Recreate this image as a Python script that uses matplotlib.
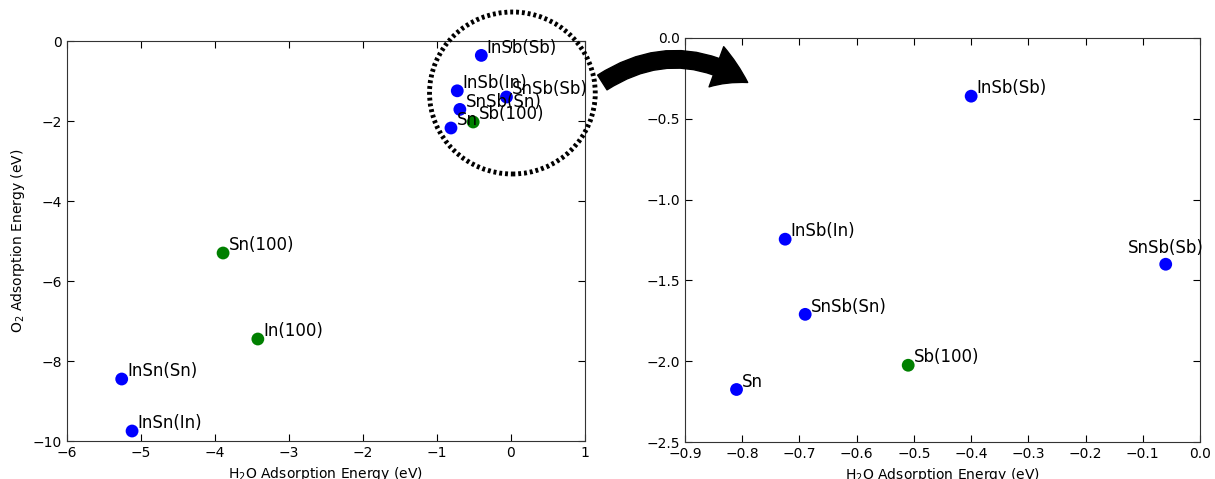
import matplotlib.pyplot as plt
from matplotlib.patches import Ellipse, FancyArrowPatch

# surface / site labels and adsorption energies (eV)
labels = ["InSb(Sb)", "InSb(In)", "SnSb(Sb)", "SnSb(Sn)", "Sn", "Sb(100)",
          "Sn(100)", "In(100)", "InSn(Sn)", "InSn(In)"]
h2o = [-0.40, -0.725, -0.06, -0.69, -0.81, -0.51, -3.89, -3.42, -5.26, -5.12]
o2 = [-0.36, -1.245, -1.40, -1.71, -2.175, -2.025, -5.30, -7.45, -8.45, -9.75]
colors = ["blue", "blue", "blue", "blue", "blue", "green",
          "green", "green", "blue", "blue"]
zoom_labels = ["InSb(Sb)", "InSb(In)", "SnSb(Sb)", "SnSb(Sn)", "Sn", "Sb(100)"]

fig = plt.figure(figsize=(12.15, 4.79), dpi=100)
ax1 = fig.add_axes([0.0551, 0.0793, 0.4263, 0.8351])
ax2 = fig.add_axes([0.5638, 0.0772, 0.4239, 0.8435])

for ax in (ax1, ax2):
    ax.tick_params(direction="in", top=True, right=True, labelsize=10, length=5)
    for s in ax.spines.values():
        s.set_color("#333333")

# full view
ax1.scatter(h2o, o2, c=colors, s=85, edgecolors="none", zorder=3)
for lab, x, y in zip(labels, h2o, o2):
    ax1.annotate(lab, (x, y), xytext=(4, 2), textcoords="offset points", fontsize=12)
ax1.set_xlim(-6, 1)
ax1.set_ylim(-10, 0)
ax1.set_xlabel("H$_2$O Adsorption Energy (eV)", fontsize=10)
ax1.set_ylabel("O$_2$ Adsorption Energy (eV)", fontsize=10)

# zoomed view
for lab, x, y, c in zip(labels, h2o, o2, colors):
    if lab not in zoom_labels:
        continue
    ax2.scatter(x, y, c=c, s=85, edgecolors="none", zorder=3)
    if lab == "SnSb(Sb)":
        ax2.annotate(lab, (x, y), xytext=(0, 8), textcoords="offset points",
                     fontsize=12, ha="center")
    else:
        ax2.annotate(lab, (x, y), xytext=(4, 2), textcoords="offset points", fontsize=12)
ax2.set_xlim(-0.9, 0.0)
ax2.set_ylim(-2.5, 0.0)
ax2.set_xlabel("H$_2$O Adsorption Energy (eV)", fontsize=10)

# dotted circle around cluster
circ = Ellipse((0.02, -1.3), width=2.24, height=4.05, fill=False, edgecolor="black",
               linestyle=(0, (0.6, 0.6)), linewidth=3.5, clip_on=False, zorder=4)
ax1.add_patch(circ)

# curved arrow between panels
arrow = FancyArrowPatch((600 / 1215, 1 - 84 / 479), (750 / 1215, 1 - 84 / 479),
                        transform=fig.transFigure, connectionstyle="arc3,rad=-0.33",
                        arrowstyle="simple,head_width=2.2,head_length=1.8,tail_width=0.9",
                        mutation_scale=14, color="black", zorder=5)
fig.patches.append(arrow)

fig.savefig("out.png", dpi=100)
